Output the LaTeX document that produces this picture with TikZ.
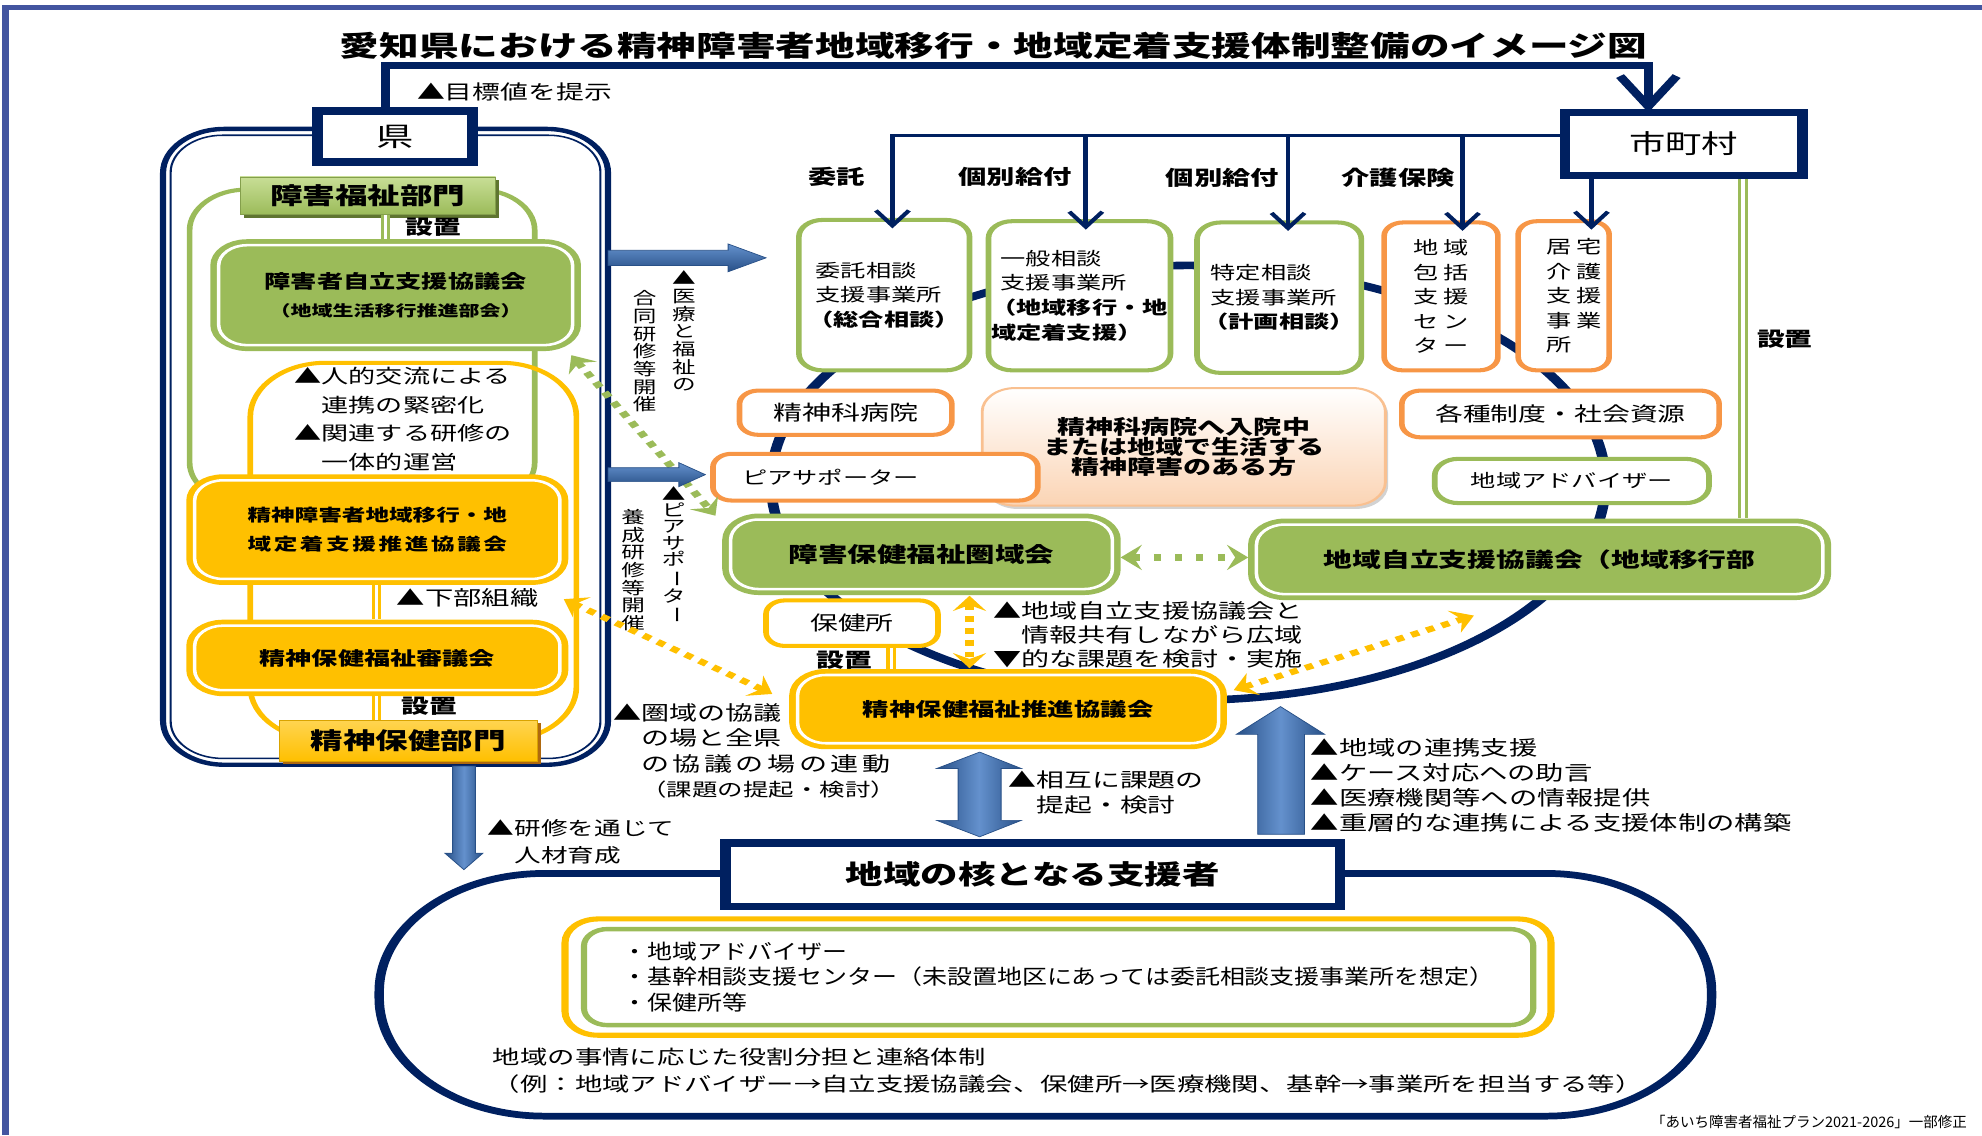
\documentclass[tikz,border=0pt]{standalone}
\usepackage{fontspec}
\usepackage{graphicx}
\setmainfont{Noto Sans CJK JP}
\newfontfamily\condf{Noto Sans CJK JP}[FakeStretch=0.86]
\newfontfamily\credf{Noto Sans CJK JP}[FakeStretch=0.714]
\usetikzlibrary{arrows.meta,shadows}
\definecolor{navy}{RGB}{0,32,96}
\definecolor{frameblue}{RGB}{67,85,160}
\definecolor{G}{RGB}{155,187,89}
\definecolor{Glight}{RGB}{200,222,150}
\definecolor{Gdark}{RGB}{95,117,48}
\definecolor{O}{RGB}{247,150,70}
\definecolor{Y}{RGB}{255,192,0}
\definecolor{Ylight}{RGB}{255,212,80}
\definecolor{Ydark}{RGB}{175,105,15}
\definecolor{Adark}{RGB}{40,80,135}
\definecolor{Alight}{RGB}{100,145,205}
\definecolor{peach}{RGB}{251,212,180}
\definecolor{peachline}{RGB}{249,192,144}
\newcommand\fsz[2]{\fontsize{#1pt}{#2pt}\selectfont}
\newcommand\ks{\kern1.5pt}
\newcommand\vchoon{\rotatebox[origin=c]{-90}{ー}}
\newcommand\bx[9]{\node[#8,minimum width={(#6-#4-2*#2)*0.535714pt},minimum height={(#7-#5-2*#3)*0.75pt}] (#1) at ({(#4+#6)/2},{(#5+#7)/2}) {#9};}
\tikzset{
  boxbase/.style={inner sep=0pt, outer sep=0pt, align=center},
  navybox/.style={boxbase, draw=navy, line width=4.5pt, fill=white},
  gthin/.style={boxbase, draw=G, line width=2.4pt, fill=white, rounded corners=10pt},
  othin/.style={boxbase, draw=O, line width=2.4pt, fill=white, rounded corners=8pt},
  ythin/.style={boxbase, draw=Y, line width=2.4pt, fill=white, rounded corners=8pt},
  gdbl/.style={boxbase, draw=G, fill=G, double=white, double distance=1.5pt, line width=2.8pt, rounded corners=12pt},
  ydbl/.style={boxbase, draw=Y, fill=Y, double=white, double distance=1.5pt, line width=2.8pt, rounded corners=12pt},
  contst/.style={boxbase, draw=navy, line width=2.6pt, rounded corners=26pt},
  grpG/.style={boxbase, draw=G, line width=2.4pt, rounded corners=24pt},
  grpY/.style={boxbase, draw=Y, line width=2.4pt, rounded corners=32pt},
  bigst/.style={boxbase, draw=navy, line width=4pt, rounded corners=70pt},
  lblG/.style={boxbase, top color=Glight, bottom color=G, draw=G!85!black, line width=0.5pt, drop shadow={shadow xshift=1.6pt, shadow yshift=-1.6pt, fill=Gdark, opacity=1}},
  lblY/.style={boxbase, top color=Ylight, bottom color=Y, draw=Y!85!black, line width=0.5pt, drop shadow={shadow xshift=1.6pt, shadow yshift=-1.6pt, fill=Ydark, opacity=1}},
  peachst/.style={boxbase, top color=white, bottom color=peach, draw=peachline, line width=1.2pt, rounded corners=14pt, drop shadow={shadow xshift=1.2pt, shadow yshift=-2pt, fill=black!35, opacity=.5}},
  txt/.style={inner sep=0pt, outer sep=0pt, align=left},
  vtxt/.style={inner sep=0pt, outer sep=0pt, align=center, font=\fsz{10}{10.5}},
  busarrow/.style={draw=navy, line width=2pt, arrows={-Straight Barb[length=9pt,width=14pt]}, shorten >=-5pt},
  toparrow/.style={draw=navy, line width=4pt, arrows={-Straight Barb[length=18pt,width=24pt]}},
  gdot/.style={draw=G, line width=3.5pt, dash pattern=on 3.5pt off 3.5pt, arrows={Stealth[length=9pt,width=14pt,inset=3.5pt]-Stealth[length=9pt,width=14pt,inset=3.5pt]}},
  gdoth/.style={draw=G, line width=4pt, dash pattern=on 3pt off 6pt, arrows={Stealth[length=9pt,width=15pt,inset=3.5pt]-Stealth[length=9pt,width=15pt,inset=3.5pt]}, shorten <=3.5pt, shorten >=3.5pt},
  ydot/.style={draw=Y, line width=3.5pt, dash pattern=on 3.5pt off 3.5pt, arrows={Stealth[length=9pt,width=14pt,inset=3.5pt]-Stealth[length=9pt,width=14pt,inset=3.5pt]}},
  gdline/.style={draw=G, double=white, line width=1.3pt, double distance=1.4pt},
  ydline/.style={draw=Y, double=white, line width=1.3pt, double distance=1.4pt},
  harrow/.style={top color=Alight, bottom color=Adark, draw=Adark, line width=0.4pt},
  varrow/.style={left color=Adark, right color=Adark, middle color=Alight, draw=Adark, line width=0.4pt}
}
\begin{document}
\begin{tikzpicture}[x=0.75pt,y=-0.75pt]
\useasboundingbox (0,0) rectangle (1568,898);
\begin{scope}[x=0.535714pt, y=-0.75pt, transform canvas={xscale=1.4}]
% outer frame
\draw[frameblue, line width=3pt] (4,898) -- (4,6) -- (1570,6);
% title
\node[txt, font=\bfseries\fsz{16.8}{20}] (title) at (786,36) {愛知県における精神障害者地域移行・地域定着支援体制整備のイメージ図};
% big navy loop
\draw[navy, line width=4.5pt] (940,382) ellipse [x radius=176.8pt, y radius=129pt];
% containers
\bx{kencont}{2}{2}{127}{100}{483}{607}{contst}{}
\draw[navy, line width=0.9pt, rounded corners=22pt] ([shift={(6,5)}]kencont.north west) rectangle ([shift={(-6,-5)}]kencont.south east);
\bx{fukushigrp}{2}{2}{148}{148}{425}{400}{grpG}{}
\bx{hokengrp}{2}{2}{196}{285}{458}{588}{grpY}{}
\bx{bigcont}{4}{3}{296}{688}{1358}{886}{bigst}{}
% main boxes
\bx{ken}{4}{3}{247}{85}{378}{131}{navybox,font=\fsz{15.8}{18}}{県}
\bx{shichoson}{4}{3}{1234}{86}{1430}{142}{navybox,font=\fsz{15.4}{18}}{市町村}
\bx{kaku}{4}{3}{570}{664}{1064}{720}{navybox,font=\bfseries\fsz{15.9}{18}}{地域の核となる支援者}
\bx{fukushibumon}{0}{0}{190}{140}{392}{170}{lblG,font=\bfseries\fsz{13.8}{16}}{障害福祉部門}
\bx{jiritsu}{7}{5}{166}{189}{460}{278}{gdbl,font=\bfseries\fsz{11.1}{17}}{障害者自立支援協議会\\\bfseries\fsz{8.9}{17}（地域生活移行推進部会）}
\bx{ikou}{7}{5}{147}{375}{450}{463}{ydbl,font=\bfseries\fsz{10}{17}}{精神障害者地域移行・地\\\makebox[110pt][s]{域\hfill 定\hfill 着\hfill 支\hfill 援\hfill 推\hfill 進\hfill 協\hfill 議\hfill 会}}
\bx{shingikai}{7}{5}{147}{490}{450}{551}{ydbl,font=\bfseries\fsz{11.1}{14}}{精神保健福祉審議会}
\bx{hokenbumon}{0}{0}{221}{570}{425}{602}{lblY,font=\bfseries\fsz{13.8}{16}}{精神保健部門}
\bx{itaku}{2}{2}{630}{172}{769}{295}{gthin,align=left,font=\fsz{10.7}{14.6}}{\kern3pt委託相談\\\kern3pt支援事業所\\\textbf{（総合相談）}}
\bx{ippan}{2}{2}{780}{173}{928}{295}{gthin,align=left,font=\fsz{10.7}{14.8}}{\kern4pt一般相談\\\kern4pt支援事業所\\\textbf{（地域移行・地}\\\textbf{域定着支援）}}
\bx{tokutei}{2}{2}{945}{174}{1079}{297}{gthin,align=left,font=\fsz{10.7}{14.6}}{\kern3pt特定相談\\\kern3pt支援事業所\\\textbf{（計画相談）}}
\bx{houkatsu}{2}{2}{1093}{174}{1187}{295}{othin,align=left,font=\fsz{10.7}{14.5}}{地\kern2pt域\\包\kern2pt括\\支\kern2pt援\\セ\kern2pt ン\\タ\kern2pt ー}
\bx{kyotaku}{2}{2}{1199}{173}{1275}{295}{othin,align=left,font=\fsz{10.7}{14.5}}{\kern9pt居\kern2pt宅\\\kern9pt介\kern2pt護\\\kern9pt支\kern2pt援\\\kern9pt事\kern2pt業\\\kern9pt所\kern2pt\phantom{宅}}
\bx{seishinka}{2}{2}{583}{307}{755}{346}{othin,font=\fsz{12.3}{14}}{精神科病院}
\bx{peach}{0}{0}{777}{307}{1096}{400}{peachst,font=\bfseries\fsz{11.9}{12}}{精神科病院へ入院中\\または地域で生活する\\精神障害のある方}
\bx{peer}{2}{2}{562}{357}{823}{398}{othin,align=left,text width=113pt,font=\fsz{10.7}{13}}{ピアサポーター}
\bx{kakushu}{2}{2}{1107}{307}{1362}{348}{othin,font=\fsz{11.8}{14}}{各種制度・社会資源}
\bx{advisor}{2}{2}{1133}{361}{1354}{400}{gthin,font=\fsz{10.7}{13}}{地域アドバイザー}
\bx{keniki}{7}{5}{571}{406}{887}{471}{gdbl,font=\bfseries\fsz{12.5}{14}}{障害保健福祉圏域会}
\bx{chiikij}{7}{5}{987}{410}{1449}{475}{gdbl,font=\bfseries\fsz{12.2}{14}}{地域自立支援協議会（地域移行部}
\bx{hokenjo}{2}{2}{604}{473}{744}{513}{ythin,font=\fsz{11.8}{14}}{保健所}
\bx{suishin}{7}{5}{624}{529}{971}{593}{ydbl,font=\bfseries\fsz{11.2}{14}}{精神保健福祉推進協議会}
\bx{goldin}{3}{2}{444}{725}{1230}{821}{boxbase,draw=Y,line width=3pt,rounded corners=14pt}{}
\bx{greenin}{2}{2}{460}{733}{1215}{813}{boxbase,draw=G,line width=2.6pt,rounded corners=10pt,align=left,font=\condf\fsz{12.3}{15}}{・地域アドバイザー\\・基幹相談支援センター（未設置地区にあっては委託相談支援事業所を想定）\\・保健所等}
% free texts
\node[txt, anchor=west, font=\fsz{11.8}{14}] (tgt) at (330,73) {▲目標値を提示};
\node[txt, font=\bfseries\fsz{12}{14}] (k1) at (662,140) {委託};
\node[txt, font=\bfseries\fsz{12}{14}] (k2) at (803,140) {個別給付};
\node[txt, font=\bfseries\fsz{12}{14}] (k3) at (967,141) {個別給付};
\node[txt, font=\bfseries\fsz{12}{14}] (k4) at (1106,141) {介護保険};
\node[txt, anchor=west, font=\bfseries\fsz{11.8}{14}] (st1) at (321,180) {設置};
\node[txt, anchor=west, font=\fsz{11.5}{17}] (jin) at (233,331.5) {▲人的交流による\\　連携の緊密化\\▲関連する研修の\\　一体的運営};
\node[txt, anchor=west, font=\fsz{12}{14}] (kabu) at (314,473) {▲下部組織};
\node[txt, anchor=west, font=\bfseries\fsz{11.8}{14}] (st2) at (318,559) {設置};
\node[txt, anchor=west, font=\fsz{11.3}{16.5}] (kens) at (386,666) {▲研修を通じて\\　人材育成};
\node[txt, anchor=west, font=\fsz{11.9}{15}] (kenk) at (485,594) {▲圏域の協議\\　の場と全県\\　の\ks 協\ks 議\ks の\ks 場\ks の\ks 連\ks 動\\　{\fsz{10.8}{15}（課題の提起・検討）}};
\node[txt, anchor=west, font=\fsz{11.8}{15}] (sogo) at (798,627) {▲相互に課題の\\　提起・検討};
\node[txt, anchor=west, font=\fsz{11.9}{14.3}] (joho) at (786,502) {▲地域自立支援協議会と\\　情報共有しながら広域\\▼的な課題を検討・実施};
\node[txt, anchor=west, font=\fsz{12}{14.8}] (renk) at (1037,621.5) {▲地域の連携支援\\▲ケース対応への助言\\▲医療機関等への情報提供\\▲重層的な連携による支援体制の構築};
\node[txt, font=\bfseries\fsz{11.8}{14}] (st3) at (1412,268) {設置};
\node[txt, font=\bfseries\fsz{11.8}{14}] (st4) at (668,522) {設置};
\node[txt, anchor=west, font=\fsz{11.6}{16.5}] (jijo) at (390,847) {地域の事情に応じた役割分担と連絡体制\\（例：地域アドバイザー→自立支援協議会、保健所→医療機関、基幹→事業所を担当する等）};
\node[txt, anchor=east, font=\credf\fsz{8.6}{10}] (cred) at (1556,888) {「あいち障害者福祉プラン2021-2026」一部修正};
\node[vtxt] (v1) at (541,262) {▲\\医\\療\\と\\福\\祉\\の};
\node[vtxt] (v2) at (510,278) {合\\同\\研\\修\\等\\開\\催};
\node[vtxt, font=\fsz{10}{9.75}] (v3) at (533,439) {▲\\ピ\\ア\\サ\\ポ\\\vchoon\\タ\\\vchoon};
\node[vtxt] (v4) at (501,451) {養\\成\\研\\修\\等\\開\\催};
% navy connectors
\coordinate (ta) at (305,52);
\coordinate (tb) at (1304,52);
\draw[toparrow] (ta |- ken.north) -- (ta) -- (tb) -- (tb |- shichoson.north);
\coordinate (b1) at (706,107);
\coordinate (b2) at (859,107);
\coordinate (b3) at (1019,107);
\coordinate (b4) at (1157,107);
\coordinate (b5) at (1259,0);
\draw[busarrow] (b1 -| shichoson.west) -- (b1) -- (b1 |- itaku.north);
\draw[busarrow] (b2) -- (b2 |- ippan.north);
\draw[busarrow] (b3) -- (b3 |- tokutei.north);
\draw[busarrow] (b4) -- (b4 |- houkatsu.north);
\draw[busarrow] (shichoson.south -| b5) -- (kyotaku.north -| b5);
% double lines
\coordinate (sx1) at (305,0);
\coordinate (sx2) at (298,0);
\coordinate (sx3) at (705,0);
\coordinate (gx) at (1379,0);
\draw[gdline, shorten >=3.75pt] (fukushibumon.south -| sx1) -- (jiritsu.north -| sx1);
\draw[ydline, shorten <=3.75pt, shorten >=3.75pt] (ikou.south -| sx2) -- (shingikai.north -| sx2);
\draw[ydline, shorten <=3.75pt] (shingikai.south -| sx2) -- (hokenbumon.north -| sx2);
\draw[ydline, shorten <=1.2pt, shorten >=3.75pt] (hokenjo.south -| sx3) -- (suishin.north -| sx3);
\draw[gdline, shorten <=2.25pt, shorten >=3.75pt] (shichoson.south -| gx) -- (chiikij.north -| gx);
% dotted arrows
\coordinate (gy) at (0,441);
\coordinate (yx) at (767,0);
\draw[gdot] ([shift={(-1,8)}]jiritsu.south east) -- ([shift={(-12,-3)}]keniki.north west);
\draw[gdoth] (keniki.east |- gy) -- (chiikij.west |- gy);
\draw[ydot] ([shift={(3,16)}]ikou.south east) -- ([shift={(-20,15)}]suishin.north west);
\draw[ydot, shorten <=4pt, shorten >=4pt] (keniki.south -| yx) -- (suishin.north -| yx);
\draw[ydot] ([shift={(12,12)}]suishin.north east) -- ([shift={(-52,17)}]chiikij.south);
% block arrows
\path[harrow] (481,198) -- (576,198) -- (576,193) -- (606,204) -- (576,215) -- (576,210) -- (481,210) -- cycle;
\path[harrow] (481,370) -- (537,370) -- (537,366) -- (558,375.5) -- (537,385) -- (537,381) -- (481,381) -- cycle;
\path[varrow] (358,606) -- (376,606) -- (376,675) -- (382,675) -- (367,688) -- (352,675) -- (358,675) -- cycle;
\path[varrow] (775,595) -- (808,608) -- (792,608) -- (792,649) -- (808,649) -- (775,662) -- (741,649) -- (758,649) -- (758,608) -- (741,608) -- cycle;
\path[varrow] (1013,559) -- (1048,581) -- (1032,581) -- (1032,660) -- (995,660) -- (995,581) -- (978,581) -- cycle;
\end{scope}
\end{tikzpicture}
\end{document}
